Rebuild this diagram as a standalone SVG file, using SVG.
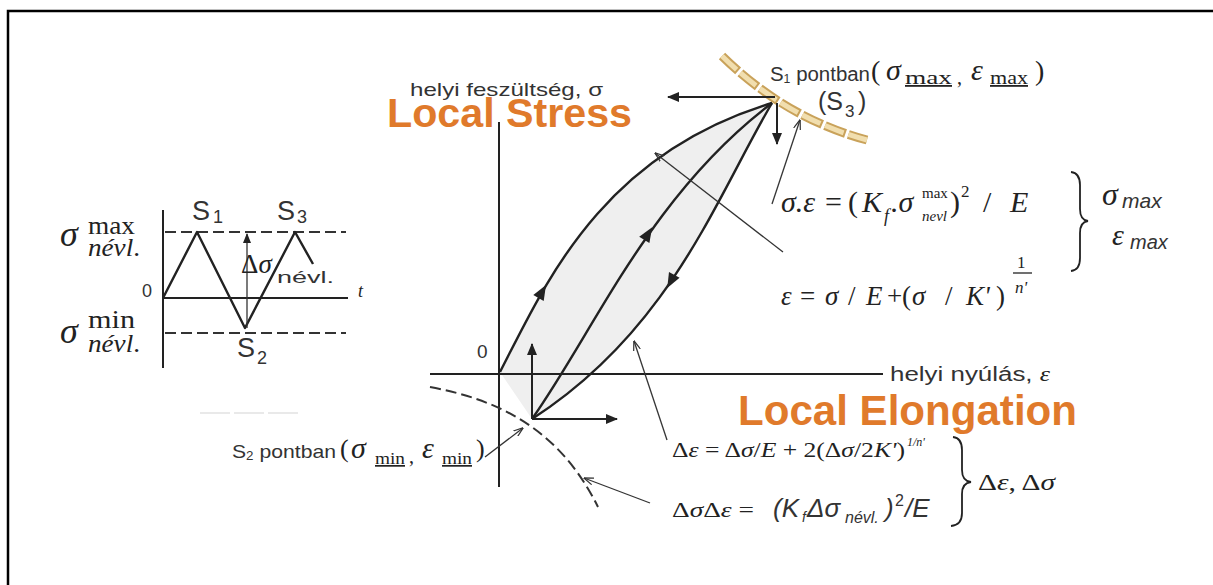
<svg xmlns="http://www.w3.org/2000/svg" width="1213" height="585" viewBox="0 0 1213 585">
<defs>
<style>
.ln{stroke:#222;stroke-width:2.4;fill:none;stroke-linejoin:round}
.ax{stroke:#222;stroke-width:2;fill:none}
.thin{stroke:#333;stroke-width:1.3;fill:none}
.dash{stroke:#333;stroke-width:2;fill:none;stroke-dasharray:11 5}
.sans{font-family:"Liberation Sans",Arial,sans-serif;fill:#333}
.serif{font-family:"Liberation Serif","Times New Roman",serif;fill:#222}
.it{font-style:italic}
.orange{font-family:"Liberation Sans",Arial,sans-serif;font-weight:bold;fill:#E07A2B}
.head{fill:#222}
</style>
<marker id="af" viewBox="0 0 12 10" refX="11" refY="5" markerWidth="12" markerHeight="10" markerUnits="userSpaceOnUse" orient="auto"><path d="M0,0 L12,5 L0,10 Z" fill="#222"/></marker>
<marker id="afs" viewBox="0 0 10 8" refX="9" refY="4" markerWidth="10" markerHeight="8" markerUnits="userSpaceOnUse" orient="auto"><path d="M0,0 L10,4 L0,8 Z" fill="#222"/></marker>
<marker id="ao" viewBox="0 0 10 8" refX="9.5" refY="4" markerWidth="10" markerHeight="8" markerUnits="userSpaceOnUse" orient="auto"><path d="M0,0.5 L10,4 L0,7.5" fill="none" stroke="#333" stroke-width="1.2"/></marker>
</defs>
<rect x="0" y="0" width="1213" height="585" fill="#fff"/>
<path d="M8,585 V11 H1213" stroke="#000" stroke-width="2.5" fill="none"/>

<g id="nominal-cycle">
<line x1="163" y1="210" x2="163" y2="368" class="ax"/>
<line x1="163" y1="298" x2="348" y2="298" class="ax"/>
<line x1="165" y1="232" x2="346" y2="232" class="dash"/>
<line x1="165" y1="333" x2="346" y2="333" class="dash"/>
<polyline points="163,298 197,232 245,328 295,232 313,264" class="ln"/>
<line x1="247" y1="328" x2="247" y2="234" class="thin" marker-end="url(#afs)"/>
<line x1="200" y1="413" x2="300" y2="413" stroke="#e2e2e2" stroke-width="1.5" stroke-dasharray="30 4"/>
<text class="serif it" font-size="36" x="60" y="246">σ</text>
<text class="serif" font-size="26" x="88" y="234" textLength="47" lengthAdjust="spacingAndGlyphs">max</text>
<text class="serif it" font-size="25" x="88" y="256" textLength="52" lengthAdjust="spacingAndGlyphs">névl<tspan font-style="normal">.</tspan></text>
<text class="serif it" font-size="36" x="60" y="343">σ</text>
<text class="serif" font-size="26" x="88" y="328" textLength="47" lengthAdjust="spacingAndGlyphs">min</text>
<text class="serif it" font-size="25" x="88" y="352" textLength="52" lengthAdjust="spacingAndGlyphs">névl<tspan font-style="normal">.</tspan></text>
<text class="sans" font-size="27" x="192" y="220">S</text><text class="sans" font-size="18" x="213" y="223">1</text>
<text class="sans" font-size="27" x="277" y="220">S</text><text class="sans" font-size="18" x="297" y="223">3</text>
<text class="sans" font-size="27" x="237" y="357">S</text><text class="sans" font-size="18" x="257" y="364">2</text>
<text class="serif" font-size="27" x="241" y="273">Δ<tspan class="it">σ</tspan></text>
<text class="sans" font-size="16" x="277" y="283" textLength="57" lengthAdjust="spacingAndGlyphs">névl.</text>
<text class="sans" font-size="18" x="142" y="297">0</text>
<text class="serif it" font-size="18" x="358" y="297">t</text>
</g>

<g id="loop">
<path d="M500,372 C545,285 600,155 772,103 C715,200 670,330 532,419 Z" fill="#efefef" stroke="none"/>
<path d="M722,56 Q785,118 867,140" stroke="#c9a25a" stroke-width="9" fill="none" stroke-dasharray="22 3"/>
<path d="M722,56 Q785,118 867,140" stroke="#f1deae" stroke-width="5" fill="none" stroke-dasharray="20 5"/>
<line x1="499" y1="122" x2="499" y2="487" class="ax"/>
<line x1="430" y1="374" x2="883" y2="374" class="ax"/>
<path d="M500,372 C545,285 600,155 772,103" class="ln"/>
<path d="M532,419 C595,330 650,195 772,103" class="ln"/>
<path d="M772,103 C715,200 670,330 532,419" class="ln"/>
<path d="M8,0 L-7,-6 L-7,6 Z" class="head" transform="translate(542,292) rotate(-60)"/>
<path d="M8,0 L-7,-6 L-7,6 Z" class="head" transform="translate(648,234) rotate(-58)"/>
<path d="M8,0 L-7,-6 L-7,6 Z" class="head" transform="translate(671,281) rotate(118)"/>
<path d="M430,387 C500,400 560,430 598,507" class="dash" stroke-width="1.8" stroke-dasharray="8 5"/>
</g>

<g id="connectors">
<line x1="775" y1="97" x2="668" y2="97" class="ax" marker-end="url(#af)"/>
<line x1="777" y1="103" x2="777" y2="144" class="ax" marker-end="url(#af)"/>
<line x1="532" y1="419" x2="532" y2="344" class="ax" marker-end="url(#af)"/>
<line x1="532" y1="419" x2="617" y2="419" class="ax" marker-end="url(#af)"/>
<line x1="485" y1="457" x2="523" y2="428" class="thin" marker-end="url(#ao)"/>
<line x1="650" y1="503" x2="584" y2="478" class="thin" marker-end="url(#ao)"/>
<line x1="667" y1="440" x2="634" y2="341" class="thin" marker-end="url(#ao)"/>
<line x1="783" y1="252" x2="655" y2="153" class="thin" marker-end="url(#ao)"/>
<line x1="772" y1="204" x2="800" y2="120" class="thin" marker-end="url(#ao)"/>
<path d="M1071,172 Q1080,173 1080,185 L1080,209 Q1080,220 1088,221 Q1080,222 1080,233 L1080,258 Q1080,270 1071,271" stroke="#222" stroke-width="1.8" fill="none"/>
<path d="M953,437 Q962,438 962,450 L962,470 Q962,481 971,482 Q962,483 962,494 L962,513 Q962,525 951,526" stroke="#222" stroke-width="1.8" fill="none"/>
</g>

<g id="axis-labels">
<text class="sans" font-size="19" x="410" y="96" fill="#3a3a3a" textLength="193" lengthAdjust="spacingAndGlyphs">helyi feszültség, σ</text>
<text class="orange" font-size="40" x="387" y="127" textLength="245" lengthAdjust="spacingAndGlyphs">Local Stress</text>
<text class="sans" font-size="20" x="890" y="381" fill="#3a3a3a" textLength="160" lengthAdjust="spacingAndGlyphs">helyi nyúlás, <tspan class="serif it">ε</tspan></text>
<text class="orange" font-size="43" x="738" y="425" textLength="339" lengthAdjust="spacingAndGlyphs">Local Elongation</text>
<text class="sans" font-size="19" x="477" y="358">0</text>
</g>

<g id="s1-label">
<text class="sans" font-size="20" x="770" y="81" fill="#444" textLength="100" lengthAdjust="spacingAndGlyphs">S<tspan font-size="12" dy="2">1</tspan><tspan dy="-2"> pontban</tspan></text>
<text class="serif" font-size="28" x="871" y="80">(</text>
<text class="serif it" font-size="30" x="886" y="80">σ</text>
<text class="serif" font-size="18" x="905" y="84" text-decoration="underline" textLength="47" lengthAdjust="spacingAndGlyphs">max</text>
<text class="serif" font-size="20" x="957" y="84">,</text>
<text class="serif it" font-size="30" x="971" y="80">ε</text>
<text class="serif" font-size="18" x="990" y="84" text-decoration="underline" textLength="38" lengthAdjust="spacingAndGlyphs">max</text>
<text class="serif" font-size="28" x="1035" y="80">)</text>
<text class="sans" font-size="25" x="818" y="110">(S</text>
<text class="sans" font-size="17" x="845" y="117">3</text>
<text class="sans" font-size="25" x="858" y="110">)</text>
</g>

<g id="formula-max">
<text class="serif it" font-size="30" y="212"><tspan x="781">σ.ε</tspan><tspan x="825" font-style="normal">=</tspan><tspan x="848" font-style="normal">(</tspan><tspan x="862">K</tspan></text>
<text class="serif it" font-size="18" x="884" y="222">f</text>
<text class="serif it" font-size="30" x="891" y="212">.σ</text>
<text class="serif" font-size="15" x="922" y="198">max</text>
<text class="serif it" font-size="15" x="922" y="221">nevl</text>
<text class="serif" font-size="30" x="950" y="212">)</text>
<text class="serif" font-size="17" x="961" y="197">2</text>
<text class="serif it" font-size="30" y="212"><tspan x="983" font-style="normal">/</tspan><tspan x="1010">E</tspan></text>
<text class="serif it" font-size="32" x="1102" y="205">σ</text>
<text class="sans it" font-size="21" x="1122" y="208">max</text>
<text class="serif it" font-size="30" x="1112" y="245">ε</text>
<text class="sans it" font-size="20" x="1130" y="249">max</text>
<text class="serif it" font-size="27" y="305"><tspan x="781">ε</tspan><tspan x="800" font-style="normal">=</tspan><tspan x="825">σ</tspan><tspan x="848" font-style="normal">/</tspan><tspan x="866">E</tspan><tspan x="887" font-style="normal">+</tspan><tspan x="902" font-style="normal">(</tspan><tspan x="912">σ</tspan><tspan x="945" font-style="normal">/</tspan><tspan x="966">K'</tspan><tspan x="996" font-style="normal">)</tspan></text>
<text class="serif" font-size="17" x="1017" y="268">1</text>
<line x1="1013" y1="273" x2="1032" y2="273" stroke="#222" stroke-width="1.3"/>
<text class="serif it" font-size="17" x="1015" y="293">n'</text>
</g>

<g id="s2-label">
<text class="sans" font-size="19" x="232" y="458" fill="#444" textLength="104" lengthAdjust="spacingAndGlyphs">S<tspan font-size="12" dy="2">2</tspan><tspan dy="-2"> pontban</tspan></text>
<text class="serif" font-size="26" x="340" y="457">(</text>
<text class="serif it" font-size="30" x="351" y="458">σ</text>
<text class="serif" font-size="17" x="375" y="464" text-decoration="underline" textLength="30" lengthAdjust="spacingAndGlyphs">min</text>
<text class="serif" font-size="20" x="409" y="463">,</text>
<text class="serif it" font-size="30" x="422" y="458">ε</text>
<text class="serif" font-size="17" x="442" y="464" text-decoration="underline" textLength="30" lengthAdjust="spacingAndGlyphs">min</text>
<text class="serif" font-size="26" x="476" y="457">)</text>
</g>

<g id="formula-range">
<text class="serif" font-size="21" x="672" y="457" textLength="233" lengthAdjust="spacingAndGlyphs">Δ<tspan class="it">ε</tspan> = Δ<tspan class="it">σ</tspan>/<tspan class="it">E</tspan> + 2(Δ<tspan class="it">σ</tspan>/2<tspan class="it">K'</tspan>)</text>
<text class="serif it" font-size="12" x="907" y="446">1/n'</text>
<text class="serif" font-size="21" x="672" y="517" textLength="82" lengthAdjust="spacingAndGlyphs">Δ<tspan class="it">σ</tspan>Δ<tspan class="it">ε</tspan> =</text>
<text class="sans it" font-size="26" x="773" y="517" fill="#222">(K</text>
<text class="sans it" font-size="14" x="802" y="522" fill="#222">f</text>
<text class="sans it" font-size="26" x="807" y="517" fill="#222">Δσ</text>
<text class="sans it" font-size="16" x="845" y="523" fill="#222">névl.</text>
<text class="sans it" font-size="26" x="885" y="517" fill="#222">)</text>
<text class="sans" font-size="16" x="895" y="506" fill="#222">2</text>
<text class="sans it" font-size="26" x="905" y="517" fill="#222">/E</text>
<text class="serif" font-size="23" x="978" y="490" textLength="77" lengthAdjust="spacingAndGlyphs">Δ<tspan class="it">ε</tspan>, Δ<tspan class="it">σ</tspan></text>
</g>
</svg>
